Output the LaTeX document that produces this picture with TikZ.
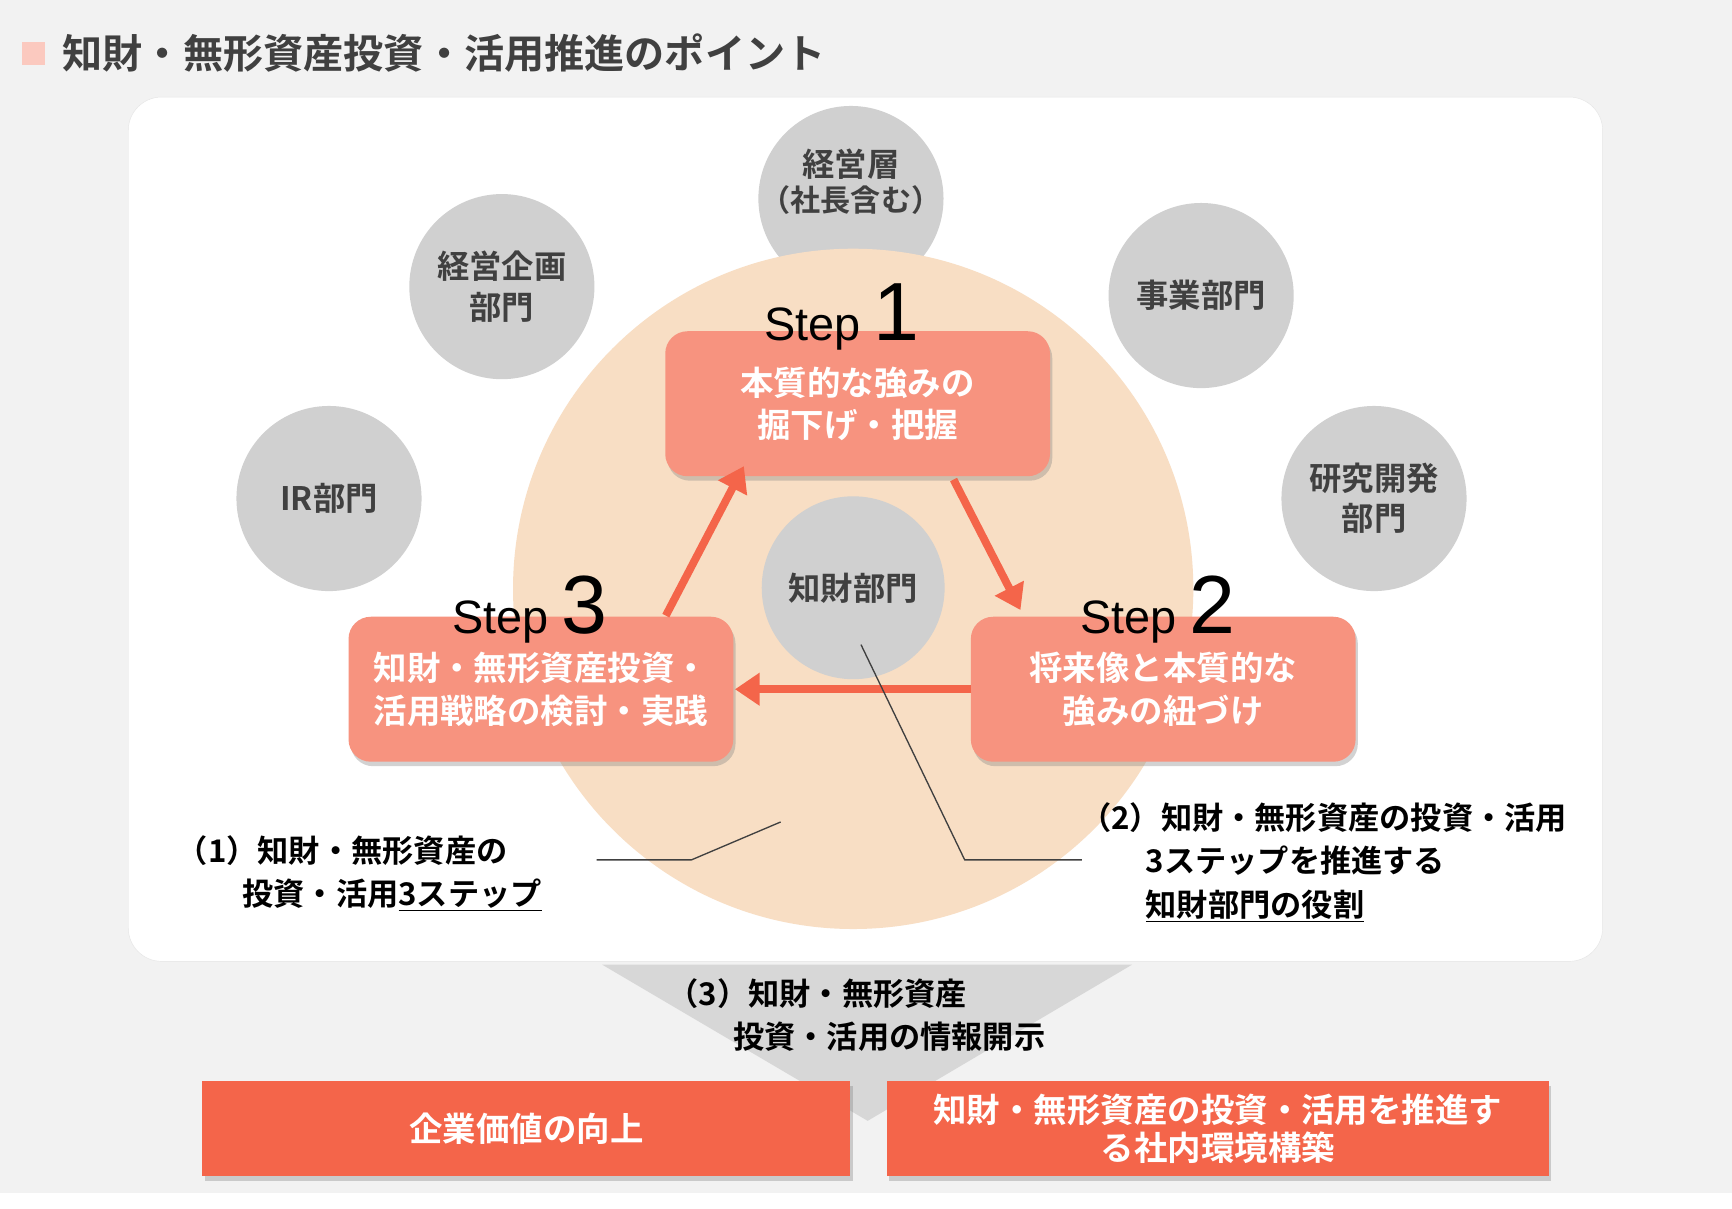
\documentclass[tikz,border=0pt]{standalone}
\usepackage{fontspec}
\setmainfont{Noto Sans CJK JP}[BoldFont={* Bold}]
\newfontfamily\lat{Liberation Sans}
\usetikzlibrary{shadows,arrows.meta}
\definecolor{bgg}{HTML}{F2F2F2}
\definecolor{peach}{HTML}{F8DEC4}
\definecolor{gc}{HTML}{D0D0D0}
\definecolor{salm}{HTML}{F7937F}
\definecolor{org}{HTML}{F4654A}
\definecolor{dk}{HTML}{404040}
\tikzset{
 gcirc/.style={circle,fill=gc,minimum size=166pt,inner sep=0pt,align=center,text=dk,font=\bfseries\fontsize{29}{36}\selectfont},
 stepbox/.style={rounded corners=20pt,fill=salm,minimum width=345pt,minimum height=130pt,text=white,align=center,font=\bfseries\fontsize{30}{38}\selectfont,drop shadow={opacity=0.35,shadow xshift=2pt,shadow yshift=-4pt}},
 steplab/.style={font=\lat\fontsize{42}{46}\selectfont,text=black,anchor=base},
 arr/.style={org,line width=7pt,-{Triangle[length=22pt,width=28pt]}},
 lead/.style={dk,line width=1.2pt},
 lab/.style={anchor=west,align=left,font=\bfseries\fontsize{28}{39}\selectfont,text=black},
 obox/.style={fill=org,text=white,align=center,font=\bfseries\fontsize{30}{34}\selectfont,drop shadow={opacity=0.35,shadow xshift=2pt,shadow yshift=-4pt}}
}
\begin{document}
\begin{tikzpicture}[x=1pt,y=-1pt]
\useasboundingbox (0,0) rectangle (1553,1084);
\fill[bgg] (0,0) rectangle (1553,1070);
\fill[white] (0,1070) rectangle (1553,1084);
\fill[fill=white!50!salm] (20,38) rectangle (40,58);
\node[anchor=west,text=dk,inner sep=0pt,font=\bfseries\fontsize{36}{40}\selectfont] (title) at (56,48) {知財・無形資産投資・活用推進のポイント};
\fill[white,draw=white!90!black] (115,87) [rounded corners=30pt] rectangle (1437,862);
\node[gcirc] (c0) at (763,178) {};
\node[align=center,text=dk,font=\bfseries\fontsize{29}{36}\selectfont] (c0t) at (763,163) {経営層\\[-4pt]{\fontsize{27}{30}\selectfont（社長含む）}};
\fill[peach] (765,528) circle (305);
\node[gcirc] (c1) at (450,257) {経営企画\\部門};
\node[gcirc] (c2) at (1077,265) {事業部門};
\node[gcirc] (c3) at (295,447) {IR部門};
\node[gcirc] (c4) at (1232,447) {研究開発\\部門};
\node[gcirc,minimum size=164pt] (c5) at (765,527) {知財部門};
\node[stepbox] (s1) at (769,362) {本質的な強みの\\掘下げ・把握};
\node[stepbox] (s2) at (1043,618) {将来像と本質的な\\強みの紐づけ};
\node[stepbox] (s3) at (485,618) {知財・無形資産投資・\\活用戦略の検討・実践};
\node[steplab] (l1) at (755,305) {Step {\fontsize{74}{74}\selectfont 1}};
\node[steplab] (l2) at (1038,568) {Step {\fontsize{74}{74}\selectfont 2}};
\node[steplab] (l3) at (475,568) {Step {\fontsize{74}{74}\selectfont 3}};
\coordinate (a1s) at (855,430); \coordinate (a1e) at (915,547);
\coordinate (a2s) at (871,618); \coordinate (a2e) at (659,618);
\coordinate (a3s) at (597,552); \coordinate (a3e) at (667,418);
\draw[arr] (a1s) -- (a1e);
\draw[arr] (a2s) -- (a2e);
\draw[arr] (a3s) -- (a3e);
\coordinate (p1) at (700,737); \coordinate (q1) at (535,771);
\coordinate (p2) at (772,578); \coordinate (q2) at (970,771);
\draw[lead] (p1) -- (620,771) -- (q1);
\draw[lead] (p2) -- (865,771) -- (q2);
\node[lab] (t1) at (155,783) {（1）知財・無形資産の\\\hspace{2.1em}投資・活用\underline{3ステップ}};
\node[lab] (t2) at (965,773) {（2）知財・無形資産の投資・活用\\\hspace{2.1em}3ステップを推進する\\\hspace{2.1em}\underline{知財部門の役割}};
\fill[gc!85!white] (540,865) -- (1015,865) -- (778,1005) -- cycle;
\node[lab] (t3) at (595,910) {（3）知財・無形資産\\\hspace{2.1em}投資・活用の情報開示};
\node[obox,minimum width=581pt,minimum height=85pt] (b1) at (472,1012) {企業価値の向上};
\node[obox,minimum width=594pt,minimum height=85pt] (b2) at (1092,1012) {知財・無形資産の投資・活用を推進す\\る社内環境構築};
\end{tikzpicture}
\end{document}
